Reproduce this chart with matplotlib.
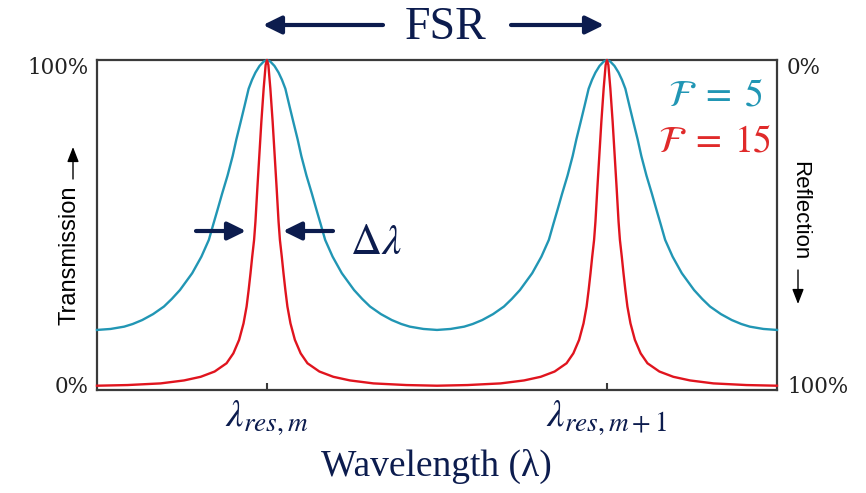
import numpy as np
import matplotlib
matplotlib.use("Agg")
import matplotlib.pyplot as plt
from matplotlib.patches import FancyArrowPatch

plt.rcParams['mathtext.fontset'] = 'stix'

# values: offset from a resonance (in FSR) -> transmission
offset_teal = [0, 0.010, 0.022, 0.034, 0.044, 0.054, 0.066, 0.078, 0.090, 0.101, 0.116,
               0.132, 0.145, 0.158, 0.171, 0.193, 0.220, 0.256, 0.280, 0.303, 0.335,
               0.367, 0.395, 0.420, 0.460, 0.500]
trans_teal = [1.0, 0.995, 0.982, 0.962, 0.940, 0.913, 0.861, 0.810, 0.760, 0.709, 0.650,
              0.595, 0.548, 0.502, 0.455, 0.404, 0.354, 0.303, 0.276, 0.253, 0.230,
              0.212, 0.200, 0.192, 0.185, 0.182]

offset_red = [0, 0.004, 0.0098, 0.0166, 0.0225, 0.0284, 0.0340, 0.038, 0.0435, 0.0485,
              0.054, 0.060, 0.069, 0.082, 0.099, 0.119, 0.154, 0.195, 0.244, 0.313,
              0.410, 0.500]
trans_red = [1.0, 0.985, 0.914, 0.813, 0.712, 0.611, 0.510, 0.4545, 0.404, 0.354,
             0.303, 0.253, 0.202, 0.152, 0.111, 0.081, 0.056, 0.040, 0.029, 0.020,
             0.015, 0.013]

resonances = [0, 1]
res_labels = [r'$\lambda_{res,m}$', r'$\lambda_{res,m+1}$']
finesse_labels = [r'$\mathcal{F}\;=\;5$', r'$\mathcal{F}\;=\;15$']

TEAL = '#2196B4'
RED = '#E0141E'
NAVY = '#0C1C4E'
W, H = 866, 493


def px(x, y):
    # pixel position -> figure fraction
    return x / W, 1 - y / H


def periodic(offs, vals):
    # one resonance, mirrored and repeated for both peaks
    offs = np.array(offs)
    vals = np.array(vals)
    hx = np.concatenate([-offs[::-1], offs[1:]])
    hy = np.concatenate([vals[::-1], vals[1:]])
    xs = np.concatenate([resonances[0] + hx, resonances[1] + hx[1:]])
    ys = np.concatenate([hy, hy[1:]])
    return xs, ys


fig = plt.figure(figsize=(W / 100, H / 100), dpi=100)
ax = fig.add_axes([97 / W, 1 - 390 / H, 680 / W, 330 / H])

x1, y1 = periodic(offset_teal, trans_teal)
x2, y2 = periodic(offset_red, trans_red)
ax.plot(x1, y1, color=TEAL, lw=1.7, clip_on=False, zorder=3, solid_joinstyle='round')
ax.plot(x2, y2, color=RED, lw=1.7, clip_on=False, zorder=4, solid_joinstyle='round')

ax.set_xlim(-0.5, 1.5)
ax.set_ylim(0, 1)
for s in ax.spines.values():
    s.set_color('#3a3a3a')
    s.set_linewidth(1.6)

ax.set_xticks(resonances)
ax.set_xticklabels(res_labels, fontsize=28, color=NAVY)
ax.tick_params(axis='x', direction='in', length=5, width=1.5, color='#3a3a3a', pad=6)
ax.set_yticks([])

# percent labels on both sides
pct = dict(fontsize=15.5, family='DejaVu Serif', color='#222222', va='center')
fig.text(*px(89, 68), '100%', ha='right', **pct)
fig.text(*px(89, 387), '0%', ha='right', **pct)
fig.text(*px(787, 68), '0%', ha='left', **pct)
fig.text(*px(787, 387), '100%', ha='left', **pct)

fig.text(*px(69, 255), 'Transmission', rotation=90, ha='center', va='center',
         fontsize=17, family='Liberation Sans')
fig.text(*px(800, 211), 'Reflection', rotation=-90, ha='center', va='center',
         fontsize=16, family='Liberation Sans')

fig.text(*px(436, 466), 'Wavelength (λ)', ha='center', va='center', fontsize=27,
         family='Liberation Serif', color=NAVY)
fig.text(*px(446, 28), 'FSR', ha='center', va='center', fontsize=33,
         family='Liberation Serif', color=NAVY)
fig.text(*px(376, 242), r'$\Delta\lambda$', ha='center', va='center', fontsize=31, color=NAVY)

fig.text(*px(715, 95), finesse_labels[0], ha='center', va='center', fontsize=27, color=TEAL)
fig.text(*px(715, 141), finesse_labels[1], ha='center', va='center', fontsize=27, color='#E02A2A')


def arrow(p0, p1, color, lw, scale, hl=0.55, hw=0.27):
    a = FancyArrowPatch(px(*p0), px(*p1), transform=fig.transFigure,
                        arrowstyle=f'-|>,head_length={hl},head_width={hw}',
                        mutation_scale=scale, color=color, lw=lw,
                        shrinkA=0, shrinkB=0)
    fig.add_artist(a)


# FSR arrows
arrow((383, 25), (263, 25), NAVY, 3, 20)
arrow((511, 25), (604, 25), NAVY, 3, 20)
# linewidth arrows
arrow((196, 231), (246, 231), NAVY, 3, 20)
arrow((333, 231), (283, 231), NAVY, 3, 20)
# axis side arrows
arrow((73, 179), (73, 147), 'black', 1.0, 10, hl=0.9, hw=0.35)
arrow((798, 270), (798, 304), 'black', 1.0, 10, hl=0.9, hw=0.35)

fig.savefig('out.png', dpi=100)
